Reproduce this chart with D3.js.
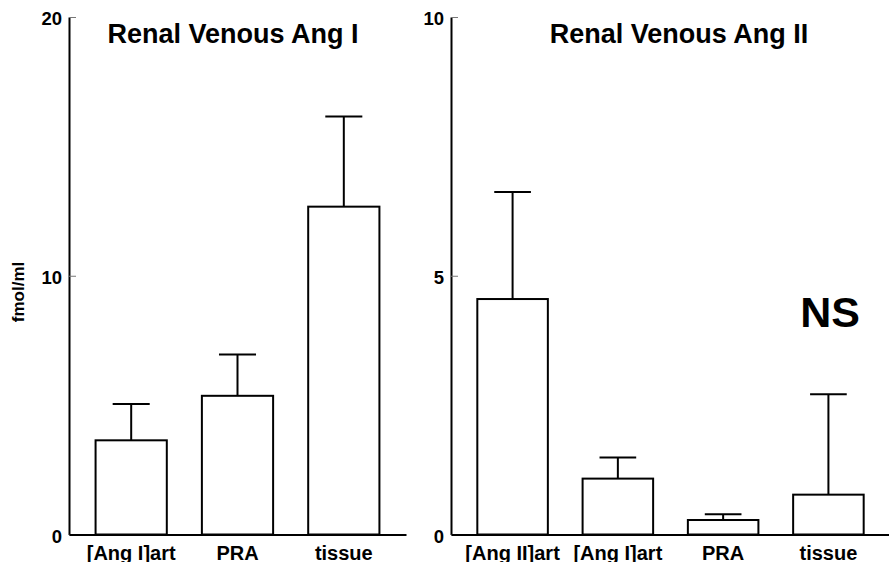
<!DOCTYPE html>
<html>
<head>
<meta charset="utf-8">
<script src="https://cdn.jsdelivr.net/npm/d3@7"></script>
<style>
  body { margin: 0; background: #fff; }
  svg { display: block; }
  svg text { font-family: "Liberation Sans", Arial, sans-serif; font-weight: bold; fill: #000; }
  .domain { stroke: #000; stroke-width: 2; }
  .tick line { stroke: #777; stroke-width: 1; }
</style>
</head>
<body>
<svg id="chart" width="889" height="562"></svg>
<script>
// values (mean and error bar above mean), fmol/ml
const angICats = ["[Ang I]art", "PRA", "tissue"];
const angIMeans = [3.64, 5.36, 12.67];
const angIErr = [1.40, 1.60, 3.48];
const angITicks = [0, 10, 20];

const angIICats = ["[Ang II]art", "[Ang I]art", "PRA", "tissue"];
const angIIMeans = [4.55, 1.08, 0.28, 0.77];
const angIIErr = [2.07, 0.41, 0.11, 1.94];
const angIITicks = [0, 5, 10];

const svg = d3.select("#chart");

// y label, shared
svg.append("text")
    .attr("transform", "translate(24,292) rotate(-90)")
    .attr("text-anchor", "middle")
    .attr("font-size", 17)
    .text("fmol/ml");

function panel(opts) {
    const { cats, means, errs, ticks, yMax, x0, x1, title, titleX } = opts;
    const top = 17, bottom = 534.5;
    const data = cats.map((c, i) => ({ name: c, value: means[i], err: errs[i] }));

    const x = d3.scaleBand()
        .domain(cats)
        .range([x0, x1])
        .paddingInner(0.33)
        .paddingOuter(0.25);

    const y = d3.scaleLinear()
        .domain([0, yMax])
        .range([bottom, top]);

    const g = svg.append("g");

    // bars
    g.selectAll("rect.bar")
        .data(data)
        .enter()
        .append("rect")
        .attr("class", "bar")
        .attr("x", d => x(d.name))
        .attr("width", x.bandwidth())
        .attr("y", d => y(d.value))
        .attr("height", d => bottom - y(d.value))
        .attr("fill", "#fff")
        .attr("stroke", "#000")
        .attr("stroke-width", 2);

    // error bars (upper only)
    const capW = x.bandwidth() * 0.52;
    g.selectAll("line.stem")
        .data(data)
        .enter()
        .append("line")
        .attr("x1", d => x(d.name) + x.bandwidth() / 2)
        .attr("x2", d => x(d.name) + x.bandwidth() / 2)
        .attr("y1", d => y(d.value))
        .attr("y2", d => y(d.value + d.err))
        .attr("stroke", "#000")
        .attr("stroke-width", 2);

    g.selectAll("line.cap")
        .data(data)
        .enter()
        .append("line")
        .attr("x1", d => x(d.name) + x.bandwidth() / 2 - capW / 2)
        .attr("x2", d => x(d.name) + x.bandwidth() / 2 + capW / 2)
        .attr("y1", d => y(d.value + d.err))
        .attr("y2", d => y(d.value + d.err))
        .attr("stroke", "#000")
        .attr("stroke-width", 2);

    // axes
    g.append("g")
        .attr("transform", `translate(${x0},0)`)
        .call(d3.axisLeft(y).tickValues(ticks).tickSize(-7).tickSizeOuter(0).tickPadding(7))
        .call(a => a.attr("font-family", null).attr("font-size", null))
        .call(a => a.selectAll("text").attr("font-size", 18.5).attr("dy", "0.42em"));

    g.append("g")
        .attr("transform", `translate(0,${bottom})`)
        .call(d3.axisBottom(x).tickSize(0).tickSizeOuter(0).tickPadding(11))
        .call(a => a.attr("font-family", null).attr("font-size", null))
        .call(a => a.selectAll("text").attr("font-size", 20));

    g.selectAll(".domain").attr("fill", "none");

    // title
    g.append("text")
        .attr("x", titleX)
        .attr("y", 43)
        .attr("text-anchor", "middle")
        .attr("font-size", 27)
        .text(title);

    return { x, y, g };
}

panel({
    cats: angICats, means: angIMeans, errs: angIErr, ticks: angITicks, yMax: 20,
    x0: 69, x1: 406, title: "Renal Venous Ang I", titleX: 233
});

const right = panel({
    cats: angIICats, means: angIIMeans, errs: angIIErr, ticks: angIITicks, yMax: 10,
    x0: 451, x1: 890, title: "Renal Venous Ang II", titleX: 679
});

right.g.append("text")
    .attr("x", 830)
    .attr("y", 327)
    .attr("text-anchor", "middle")
    .attr("font-size", 43)
    .text("NS");
</script>
</body>
</html>
